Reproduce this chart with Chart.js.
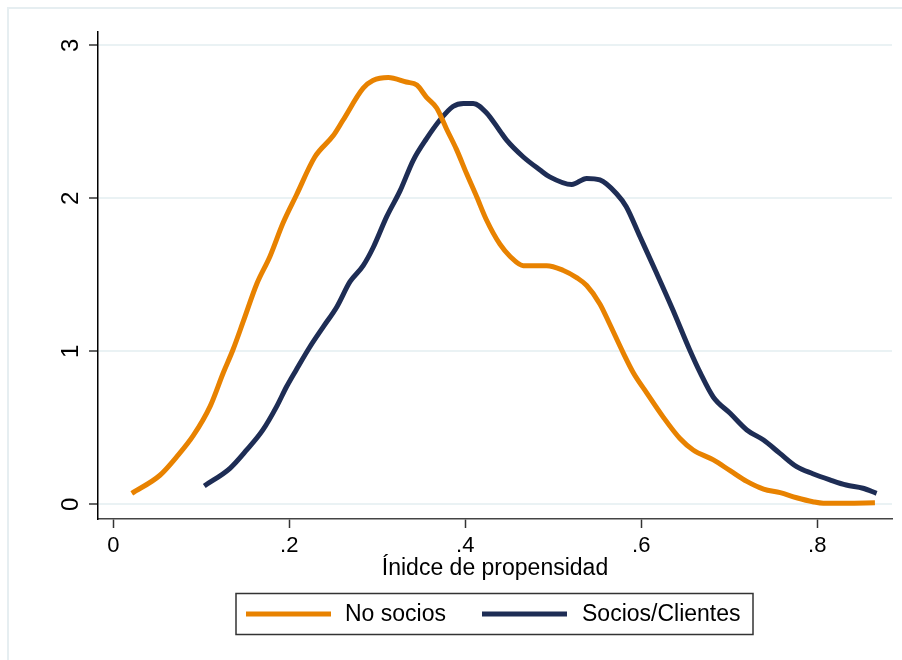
<!DOCTYPE html>
<html>
<head>
<meta charset="utf-8">
<script src="https://cdn.jsdelivr.net/npm/chart.js@4/dist/chart.umd.min.js"></script>
<style>
  body { margin: 0; background: #fff; }
  canvas { display: block; }
</style>
</head>
<body>
<canvas id="chart" width="902" height="660"></canvas>
<script>
// datos
const seriesNames = ["No socios", "Socios/Clientes"];

const noSociosX = [0.021, 0.053, 0.072, 0.091, 0.110, 0.125, 0.136, 0.148, 0.163, 0.178, 0.193, 0.208, 0.229, 0.250, 0.261, 0.284, 0.295, 0.3125, 0.333, 0.345, 0.356, 0.3675, 0.379, 0.390, 0.4016, 0.413, 0.424, 0.4394, 0.451, 0.466, 0.4925, 0.511, 0.527, 0.538, 0.553, 0.564, 0.5795, 0.591, 0.606, 0.625, 0.644, 0.659, 0.682, 0.701, 0.720, 0.739, 0.758, 0.7766, 0.795, 0.807, 0.833, 0.8656];
const noSociosY = [0.072, 0.19, 0.31, 0.45, 0.64, 0.86, 1.01, 1.20, 1.44, 1.62, 1.84, 2.02, 2.27, 2.41, 2.51, 2.72, 2.77, 2.79, 2.76, 2.74, 2.66, 2.59, 2.45, 2.32, 2.16, 2.01, 1.86, 1.70, 1.62, 1.56, 1.56, 1.53, 1.48, 1.43, 1.31, 1.18, 0.99, 0.86, 0.73, 0.57, 0.43, 0.355, 0.29, 0.22, 0.15, 0.10, 0.076, 0.043, 0.017, 0.007, 0.007, 0.01];

const sociosX = [0.1034, 0.1326, 0.1516, 0.170, 0.1857, 0.197, 0.208, 0.2235, 0.2386, 0.254, 0.269, 0.284, 0.2955, 0.3107, 0.326, 0.341, 0.356, 0.371, 0.386, 0.398, 0.409, 0.424, 0.4394, 0.447, 0.466, 0.485, 0.496, 0.521, 0.538, 0.553, 0.572, 0.583, 0.5985, 0.6175, 0.636, 0.655, 0.667, 0.682, 0.701, 0.720, 0.739, 0.7576, 0.7766, 0.795, 0.8144, 0.833, 0.852, 0.8675];
const sociosY = [0.12, 0.235, 0.355, 0.486, 0.64, 0.77, 0.88, 1.03, 1.16, 1.29, 1.455, 1.56, 1.68, 1.88, 2.05, 2.25, 2.39, 2.51, 2.60, 2.62, 2.62, 2.56, 2.44, 2.38, 2.27, 2.185, 2.14, 2.09, 2.13, 2.12, 2.03, 1.945, 1.75, 1.51, 1.27, 1.01, 0.86, 0.70, 0.595, 0.486, 0.42, 0.333, 0.246, 0.20, 0.16, 0.126, 0.105, 0.072];

const xTicks = [0, 0.2, 0.4, 0.6, 0.8];
const xTickLabels = ["0", ".2", ".4", ".6", ".8"];
const yTicks = [0, 1, 2, 3];

const colors = ["#e88200", "#1e2d55"];
const FONT = "'Liberation Sans', Arial, sans-serif";

function toPoints(xs, ys) {
    return xs.map((x, i) => ({ x: x, y: ys[i] }));
}

// marco exterior claro
const outerFrame = {
    id: "outerFrame",
    beforeDraw(chart) {
        const c = chart.ctx;
        c.save();
        c.strokeStyle = "#e6eef1";
        c.lineWidth = 2;
        c.strokeRect(8, 8, 1000, 1000);
        c.restore();
    }
};

// leyenda con recuadro
const boxLegend = {
    id: "boxLegend",
    afterDraw(chart) {
        const c = chart.ctx;
        c.save();
        c.strokeStyle = "#333";
        c.lineWidth = 1.5;
        c.strokeRect(236, 593.5, 517, 41);
        c.font = "23px " + FONT;
        c.textBaseline = "middle";
        c.fillStyle = "#000";
        const items = [[246, 331, 345], [482, 567, 582]];
        chart.data.datasets.forEach((ds, i) => {
            const it = items[i];
            c.strokeStyle = ds.borderColor;
            c.lineWidth = 5;
            c.beginPath();
            c.moveTo(it[0], 614);
            c.lineTo(it[1], 614);
            c.stroke();
            c.fillText(ds.label, it[2], 615);
        });
        c.restore();
    }
};

const ctx = document.getElementById("chart").getContext("2d");
const chart = new Chart(ctx, {
    type: "scatter",
    data: {
        datasets: [
            {
                label: seriesNames[0],
                data: toPoints(noSociosX, noSociosY),
                borderColor: colors[0],
                backgroundColor: colors[0],
                showLine: true,
                borderWidth: 5,
                pointRadius: 0,
                cubicInterpolationMode: "monotone"
            },
            {
                label: seriesNames[1],
                data: toPoints(sociosX, sociosY),
                borderColor: colors[1],
                backgroundColor: colors[1],
                showLine: true,
                borderWidth: 5,
                pointRadius: 0,
                cubicInterpolationMode: "monotone"
            }
        ]
    },
    options: {
        responsive: false,
        animation: false,
        layout: { padding: { left: 0, top: 32, right: 10, bottom: 78 } },
        plugins: {
            legend: { display: false },
            tooltip: { enabled: false }
        },
        scales: {
            x: {
                type: "linear",
                min: -0.0174,
                max: 0.885,
                afterBuildTicks: (s) => { s.ticks = xTicks.map(v => ({ value: v })); },
                afterFit: (s) => { s.height = 63; },
                ticks: {
                    autoSkip: false,
                    maxRotation: 0,
                    padding: 5,
                    color: "#000",
                    font: { family: FONT, size: 22 },
                    callback: (v) => xTickLabels[xTicks.indexOf(v)]
                },
                grid: {
                    drawOnChartArea: false,
                    tickLength: 9,
                    tickColor: "#333",
                    tickWidth: 1.5
                },
                border: { color: "#444", width: 1.5 },
                title: {
                    display: true,
                    text: "Ínidce de propensidad",
                    color: "#000",
                    font: { family: FONT, size: 23 },
                    padding: { top: 0, bottom: 0 }
                }
            },
            y: {
                min: -0.096,
                max: 3.087,
                afterBuildTicks: (s) => { s.ticks = yTicks.map(v => ({ value: v })); },
                afterFit: (s) => { s.width = 98; },
                ticks: {
                    minRotation: 90,
                    maxRotation: 90,
                    crossAlign: "center",
                    padding: 11,
                    color: "#000",
                    font: { family: FONT, size: 24 }
                },
                grid: {
                    color: "#eaf2f4",
                    lineWidth: 2,
                    tickLength: 9,
                    tickColor: "#333",
                    tickWidth: 1.5
                },
                border: { color: "#000", width: 1.5 }
            }
        }
    },
    plugins: [outerFrame, boxLegend]
});
</script>
</body>
</html>
